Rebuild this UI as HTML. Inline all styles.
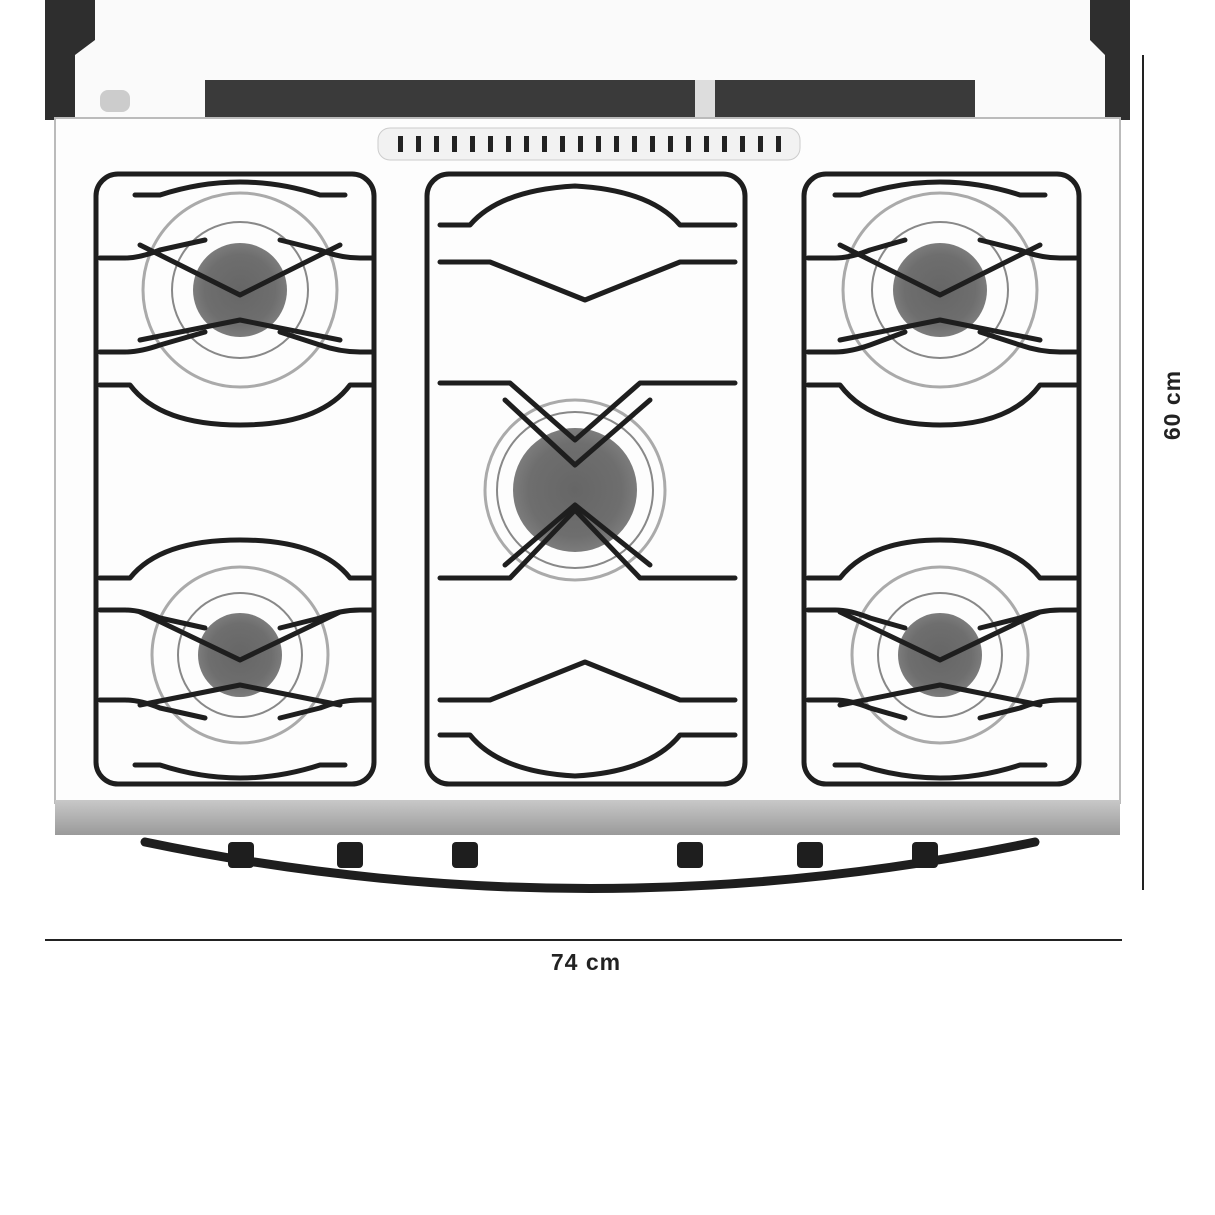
<!DOCTYPE html>
<html><head><meta charset="utf-8"><style>
html,body{margin:0;padding:0;background:#fff;}
svg{display:block}
text{font-family:"Liberation Sans",sans-serif;font-weight:bold;fill:#222}
</style></head><body>
<svg width="1215" height="1215" viewBox="0 0 1215 1215">
<defs>
<linearGradient id="strip" x1="0" y1="0" x2="0" y2="1"><stop offset="0" stop-color="#c8c8c8"/><stop offset="1" stop-color="#9a9a9a"/></linearGradient>
<radialGradient id="cap"><stop offset="0" stop-color="#666"/><stop offset="0.75" stop-color="#6e6e6e"/><stop offset="1" stop-color="#7c7c7c"/></radialGradient>
</defs>
<rect x="60" y="0" width="1050" height="118" fill="#fafafa"/>
<path d="M45 0 L95 0 L95 40 L75 55 L75 120 L45 120 Z" fill="#2e2e2e"/>
<path d="M1090 0 L1130 0 L1130 120 L1105 120 L1105 55 L1090 40 Z" fill="#2e2e2e"/>
<rect x="205" y="80" width="770" height="40" fill="#3a3a3a"/>
<rect x="695" y="80" width="20" height="40" fill="#ddd"/>
<rect x="100" y="90" width="30" height="22" rx="8" fill="#ccc"/>
<rect x="55" y="118" width="1065" height="685" fill="#fdfdfd" stroke="#bbb" stroke-width="2"/>
<rect x="55" y="800" width="1065" height="35" fill="url(#strip)"/>
<rect x="378" y="128" width="422" height="32" rx="12" fill="#f2f2f2" stroke="#ccc"/>
<g fill="#222">
<rect x="398" y="136" width="5" height="16"/><rect x="416" y="136" width="5" height="16"/><rect x="434" y="136" width="5" height="16"/><rect x="452" y="136" width="5" height="16"/><rect x="470" y="136" width="5" height="16"/><rect x="488" y="136" width="5" height="16"/><rect x="506" y="136" width="5" height="16"/><rect x="524" y="136" width="5" height="16"/><rect x="542" y="136" width="5" height="16"/><rect x="560" y="136" width="5" height="16"/><rect x="578" y="136" width="5" height="16"/><rect x="596" y="136" width="5" height="16"/><rect x="614" y="136" width="5" height="16"/><rect x="632" y="136" width="5" height="16"/><rect x="650" y="136" width="5" height="16"/><rect x="668" y="136" width="5" height="16"/><rect x="686" y="136" width="5" height="16"/><rect x="704" y="136" width="5" height="16"/><rect x="722" y="136" width="5" height="16"/><rect x="740" y="136" width="5" height="16"/><rect x="758" y="136" width="5" height="16"/><rect x="776" y="136" width="5" height="16"/>
</g>
<g stroke="#aaa" stroke-width="3" fill="none">
<circle cx="240" cy="290" r="97"/><circle cx="240" cy="655" r="88"/>
<circle cx="940" cy="290" r="97"/><circle cx="940" cy="655" r="88"/>
<circle cx="575" cy="490" r="90"/>
</g>
<g stroke="#888" stroke-width="2" fill="none">
<circle cx="240" cy="290" r="68"/><circle cx="240" cy="655" r="62"/>
<circle cx="940" cy="290" r="68"/><circle cx="940" cy="655" r="62"/>
<circle cx="575" cy="490" r="78"/>
</g>
<g fill="url(#cap)">
<circle cx="240" cy="290" r="47"/><circle cx="240" cy="655" r="42"/>
<circle cx="940" cy="290" r="47"/><circle cx="940" cy="655" r="42"/>
<circle cx="575" cy="490" r="62"/>
</g>
<g stroke="#1e1e1e" stroke-width="5" fill="none" stroke-linejoin="round" stroke-linecap="round">
<rect x="96" y="174" width="278" height="610" rx="22"/>
<rect x="427" y="174" width="318" height="610" rx="22"/>
<rect x="804" y="174" width="275" height="610" rx="22"/>
<path d="M100 258 L125 258 Q140 258 160 250 L205 240 M280 240 L320 250 Q340 258 360 258 L372 258"/>
<path d="M100 352 L125 352 Q140 352 160 345 L205 332 M280 332 L320 345 Q340 352 360 352 L372 352"/>
<path d="M100 385 L130 385 Q160 425 240 425 Q320 425 350 385 L372 385"/>
<path d="M135 195 L160 195 Q200 182 240 182 Q280 182 320 195 L345 195"/>
<path d="M140 245 L240 295 L340 245 M140 340 L240 320 L340 340"/>
<path d="M100 578 L130 578 Q160 540 240 540 Q320 540 350 578 L372 578"/>
<path d="M100 610 L125 610 Q140 610 160 618 L205 628 M280 628 L320 618 Q340 610 360 610 L372 610"/>
<path d="M100 700 L125 700 Q140 700 160 708 L205 718 M280 718 L320 708 Q340 700 360 700 L372 700"/>
<path d="M140 612 L240 660 L340 612 M140 705 L240 685 L340 705"/>
<path d="M135 765 L160 765 Q200 778 240 778 Q280 778 320 765 L345 765"/>
<path d="M808 258 L835 258 Q850 258 870 250 L905 240 M980 240 L1020 250 Q1040 258 1060 258 L1076 258"/>
<path d="M808 352 L835 352 Q850 352 870 345 L905 332 M980 332 L1020 345 Q1040 352 1060 352 L1076 352"/>
<path d="M808 385 L840 385 Q870 425 940 425 Q1010 425 1040 385 L1076 385"/>
<path d="M835 195 L860 195 Q900 182 940 182 Q980 182 1020 195 L1045 195"/>
<path d="M840 245 L940 295 L1040 245 M840 340 L940 320 L1040 340"/>
<path d="M808 578 L840 578 Q870 540 940 540 Q1010 540 1040 578 L1076 578"/>
<path d="M808 610 L835 610 Q850 610 870 618 L905 628 M980 628 L1020 618 Q1040 610 1060 610 L1076 610"/>
<path d="M808 700 L835 700 Q850 700 870 708 L905 718 M980 718 L1020 708 Q1040 700 1060 700 L1076 700"/>
<path d="M840 612 L940 660 L1040 612 M840 705 L940 685 L1040 705"/>
<path d="M835 765 L860 765 Q900 778 940 778 Q980 778 1020 765 L1045 765"/>
<path d="M440 225 L470 225 Q500 190 575 186 Q650 190 680 225 L735 225"/>
<path d="M440 262 L490 262 L585 300 L680 262 L735 262"/>
<path d="M440 383 L510 383 L575 440 L640 383 L735 383"/>
<path d="M440 578 L510 578 L575 510 L640 578 L735 578"/>
<path d="M440 700 L490 700 L585 662 L680 700 L735 700"/>
<path d="M440 735 L470 735 Q500 772 575 776 Q650 772 680 735 L735 735"/>
<path d="M505 400 L575 465 L650 400 M505 565 L575 505 L650 565"/>
</g>
<path d="M145 842 Q590 935 1035 842" stroke="#1e1e1e" stroke-width="9" fill="none" stroke-linecap="round"/>
<g fill="#1e1e1e">
<rect x="228" y="842" width="26" height="26" rx="4"/><rect x="337" y="842" width="26" height="26" rx="4"/>
<rect x="452" y="842" width="26" height="26" rx="4"/><rect x="677" y="842" width="26" height="26" rx="4"/>
<rect x="797" y="842" width="26" height="26" rx="4"/><rect x="912" y="842" width="26" height="26" rx="4"/>
</g>
<line x1="45" y1="940" x2="1122" y2="940" stroke="#222" stroke-width="2"/>
<line x1="1143" y1="55" x2="1143" y2="890" stroke="#222" stroke-width="2"/>
<text x="586" y="970" font-size="23" text-anchor="middle" letter-spacing="1">74 cm</text>
<text x="0" y="0" font-size="23" text-anchor="middle" letter-spacing="1" transform="translate(1180,405) rotate(-90)">60 cm</text>
</svg>
</body></html>
